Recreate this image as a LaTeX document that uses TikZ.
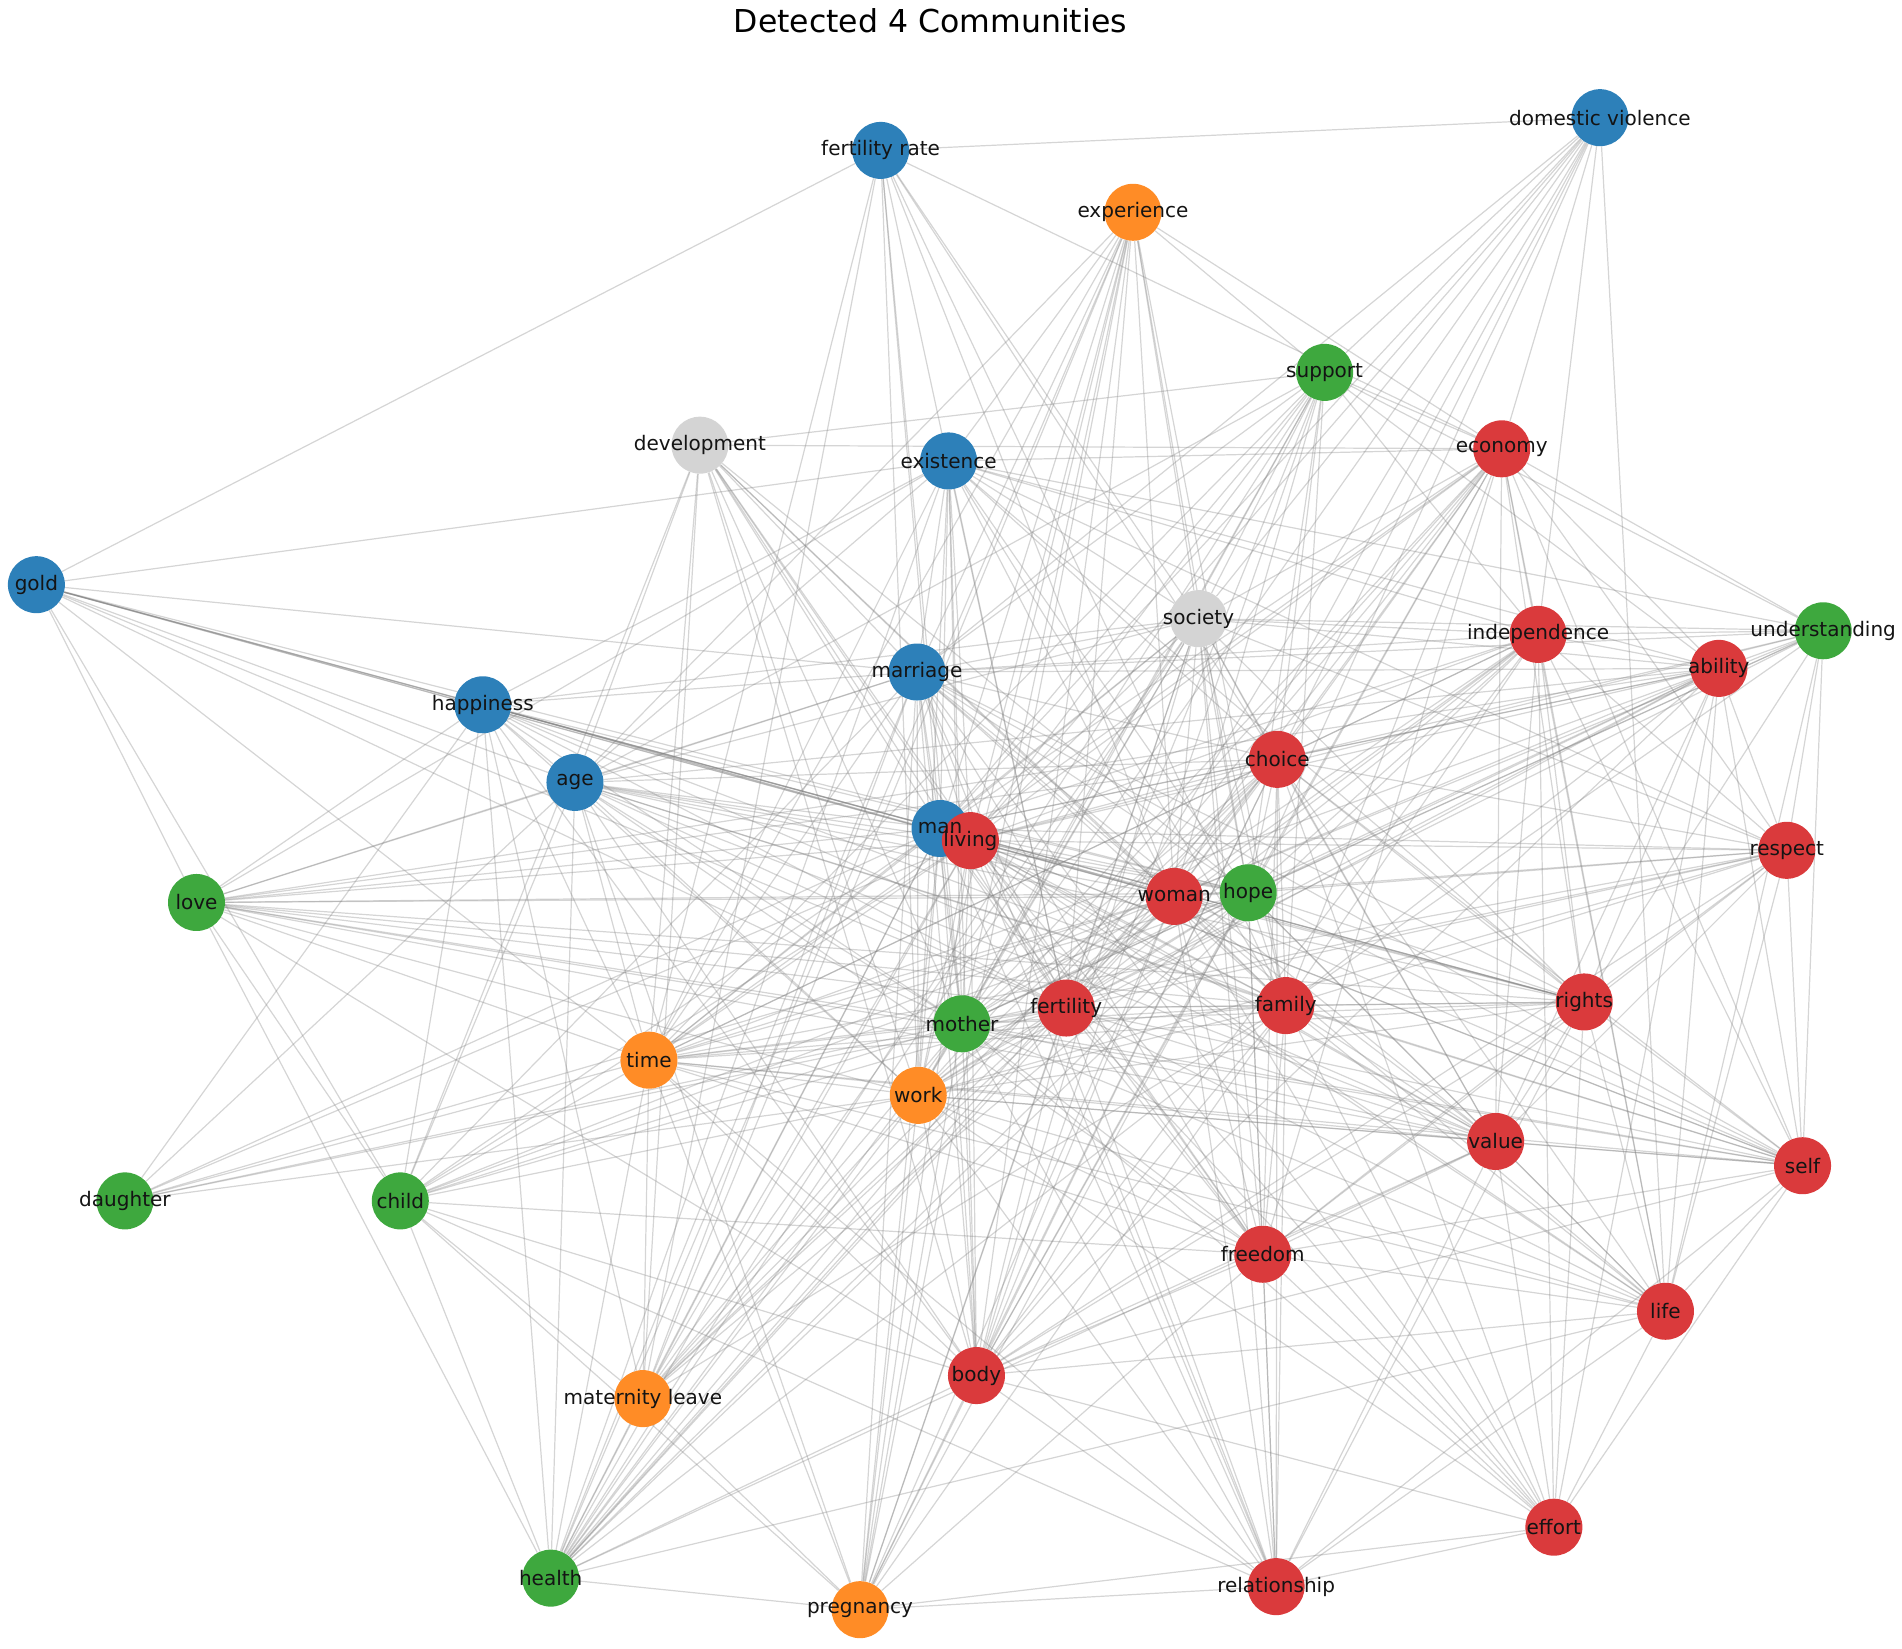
\documentclass[tikz,border=0pt]{standalone}
\usepackage{fontspec}
\setmainfont{DejaVu Sans}
\usepackage{tikz}

\definecolor{commblue}{RGB}{45,128,185}
\definecolor{commorange}{RGB}{255,140,38}
\definecolor{commgreen}{RGB}{62,168,62}
\definecolor{commred}{RGB}{218,58,60}
\definecolor{commgray}{RGB}{212,212,212}

\pgfdeclarelayer{edges}
\pgfsetlayers{edges,main}

\begin{document}
\begin{tikzpicture}[x=1pt,y=-1pt,
	every node/.style={inner sep=0pt},
	term/.style={circle,minimum size=47pt,fill=#1},
	word/.style={font=\fontsize{16.5}{19}\selectfont,text=black!92},
	link/.style={draw=black!50,draw opacity=0.33,line width=1pt}]
\useasboundingbox (0,0) rectangle (1568,1359);

\node[font=\fontsize{26}{31}\selectfont] (title) at (767,17) {Detected 4 Communities};

\foreach \n/\x/\y/\c in {
	dv/1319/97/commblue, frate/726/124/commblue, exper/934/175/commorange,
	supp/1092/307/commgreen, devel/577/367/commgray, exist/782/380/commblue,
	econ/1238/370/commred, gold/30/482/commblue, soc/988/510/commgray,
	indep/1268/523/commred, under/1503/520/commgreen, abil/1417/551/commred,
	marr/756/554/commblue, happ/398/581/commblue, choice/1053/626/commred,
	age/474/645/commblue, man/775/683/commblue, living/800/693/commred,
	resp/1473/701/commred, love/162/744/commgreen, woman/968/739/commred,
	hope/1029/736/commgreen, fert/879/831/commred, fam/1060/829/commred,
	rights/1306/826/commred, mother/793/844/commgreen, time/535/874/commorange,
	work/757/903/commorange, value/1233/941/commred, self/1486/961/commred,
	daught/103/990/commgreen, child/330/990/commgreen, freed/1041/1034/commred,
	life/1373/1081/commred, body/805/1134/commred, mleave/530/1153/commorange,
	effort/1281/1259/commred, health/454/1301/commgreen, rel/1052/1308/commred,
	preg/709/1327/commorange}
	\node[term=\c] (\n) at (\x,\y) {};

\foreach \n/\t in {
	dv/domestic violence, frate/fertility rate, exper/experience, supp/support,
	devel/development, exist/existence, econ/economy, gold/gold, soc/society,
	indep/independence, under/understanding, abil/ability, marr/marriage,
	happ/happiness, choice/choice, age/age, man/man, living/living,
	resp/respect, love/love, woman/woman, hope/hope, fert/fertility,
	fam/family, rights/rights, mother/mother, time/time, work/work,
	value/value, self/self, daught/daughter, child/child, freed/freedom,
	life/life, body/body, mleave/maternity leave, effort/effort,
	health/health, rel/relationship, preg/pregnancy}
	\node[word] (\n-l) at (\n) {\t};

\begin{pgfonlayer}{edges}
\foreach \a/\b in {
	dv/frate, dv/supp, dv/econ, dv/soc, dv/indep, dv/marr, dv/man, dv/living,
	dv/woman, dv/hope, dv/fert, dv/mother, dv/life, dv/choice,
	frate/econ, frate/gold, frate/soc, frate/man, frate/woman, frate/fert,
	frate/fam, frate/mother, frate/work, frate/mleave, frate/choice, frate/time,
	exper/supp, exper/econ, exper/soc, exper/marr, exper/man, exper/living,
	exper/woman, exper/hope, exper/fert, exper/fam, exper/mother, exper/time,
	exper/work, exper/body, exper/mleave, exper/health, exper/preg, exper/age,
	exper/exist,
	supp/devel, supp/econ, supp/soc, supp/indep, supp/under, supp/abil,
	supp/marr, supp/choice, supp/age, supp/living, supp/woman, supp/hope,
	supp/fert, supp/fam, supp/mother, supp/time, supp/work, supp/body,
	supp/health, supp/man,
	devel/econ, devel/marr, devel/age, devel/man, devel/living, devel/woman,
	devel/hope, devel/fert, devel/fam, devel/mother, devel/time, devel/work,
	devel/child, devel/freed, devel/body, devel/mleave,
	exist/econ, exist/gold, exist/soc, exist/indep, exist/abil, exist/under,
	exist/marr, exist/happ, exist/choice, exist/age, exist/man, exist/living,
	exist/resp, exist/love, exist/woman, exist/hope, exist/fert, exist/fam,
	exist/rights, exist/mother, exist/time, exist/work, exist/body, exist/health,
	econ/soc, econ/indep, econ/abil, econ/under, econ/choice, econ/living,
	econ/resp, econ/woman, econ/hope, econ/fert, econ/fam, econ/rights,
	econ/mother, econ/time, econ/work, econ/value, econ/self, econ/freed,
	econ/life, econ/body, econ/health, econ/man,
	gold/marr, gold/happ, gold/age, gold/man, gold/living, gold/love,
	gold/woman, gold/hope, gold/fert, gold/mother, gold/time, gold/child,
	gold/rights,
	soc/indep, soc/abil, soc/under, soc/marr, soc/happ, soc/choice, soc/age,
	soc/man, soc/living, soc/woman, soc/hope, soc/fert, soc/fam, soc/rights,
	soc/mother, soc/time, soc/work, soc/value, soc/freed, soc/body,
	soc/mleave, soc/health, soc/rel, soc/preg, soc/resp,
	indep/abil, indep/under, indep/marr, indep/choice, indep/man, indep/living,
	indep/resp, indep/woman, indep/hope, indep/fert, indep/fam, indep/rights,
	indep/mother, indep/time, indep/work, indep/value, indep/self, indep/life,
	indep/effort, indep/body, indep/health,
	under/abil, under/choice, under/resp, under/woman, under/hope, under/fam,
	under/rights, under/mother, under/living, under/self, under/life,
	under/fert, under/marr,
	abil/marr, abil/choice, abil/age, abil/man, abil/living, abil/resp,
	abil/love, abil/woman, abil/hope, abil/fert, abil/fam, abil/rights,
	abil/mother, abil/time, abil/work, abil/value, abil/self, abil/life,
	abil/effort, abil/body,
	marr/happ, marr/choice, marr/age, marr/man, marr/living, marr/woman,
	marr/hope, marr/fert, marr/fam, marr/rights, marr/mother, marr/time,
	marr/work, marr/value, marr/self, marr/freed, marr/body, marr/mleave,
	marr/health, marr/preg, marr/rel, marr/effort, marr/child, marr/love,
	happ/age, happ/man, happ/living, happ/love, happ/woman, happ/hope,
	happ/fert, happ/fam, happ/mother, happ/time, happ/work, happ/daught,
	happ/child, happ/mleave, happ/health, happ/body, happ/rights, happ/value,
	choice/age, choice/man, choice/living, choice/resp, choice/woman,
	choice/hope, choice/fert, choice/fam, choice/rights, choice/mother,
	choice/time, choice/work, choice/value, choice/self, choice/freed,
	choice/life, choice/body, choice/mleave, choice/health, choice/preg,
	choice/rel, choice/effort, choice/love,
	age/man, age/living, age/love, age/woman, age/hope, age/fert, age/fam,
	age/rights, age/mother, age/time, age/work, age/value, age/self,
	age/daught, age/child, age/freed, age/body, age/health, age/preg,
	man/living, man/resp, man/love, man/woman, man/hope, man/fert, man/fam,
	man/rights, man/mother, man/time, man/work, man/value, man/self,
	man/child, man/freed, man/life, man/body, man/mleave, man/health,
	man/preg, man/rel, man/daught,
	living/resp, living/love, living/woman, living/hope, living/fert,
	living/fam, living/rights, living/mother, living/time, living/work,
	living/value, living/self, living/daught, living/child, living/freed,
	living/life, living/body, living/mleave, living/health, living/preg,
	living/rel, living/effort,
	resp/woman, resp/hope, resp/fert, resp/fam, resp/rights, resp/mother,
	resp/time, resp/work, resp/value, resp/self, resp/life, resp/body,
	resp/freed,
	love/woman, love/hope, love/fert, love/fam, love/mother, love/time,
	love/work, love/child, love/body, love/health, love/value, love/rights,
	love/self,
	woman/hope, woman/fert, woman/fam, woman/rights, woman/mother, woman/time,
	woman/work, woman/value, woman/self, woman/daught, woman/child,
	woman/freed, woman/life, woman/body, woman/mleave, woman/health,
	woman/preg, woman/rel, woman/effort,
	hope/fert, hope/fam, hope/rights, hope/mother, hope/time, hope/work,
	hope/value, hope/self, hope/child, hope/freed, hope/life, hope/body,
	hope/mleave, hope/health, hope/preg, hope/rel,
	fert/fam, fert/rights, fert/mother, fert/time, fert/work, fert/value,
	fert/self, fert/daught, fert/child, fert/freed, fert/life, fert/body,
	fert/mleave, fert/health, fert/preg, fert/rel, fert/effort,
	fam/rights, fam/mother, fam/time, fam/work, fam/value, fam/self,
	fam/freed, fam/life, fam/body, fam/mleave, fam/health, fam/preg,
	fam/rel, fam/effort,
	rights/mother, rights/time, rights/value, rights/self, rights/freed,
	rights/life, rights/body, rights/effort, rights/rel, rights/work,
	mother/time, mother/work, mother/value, mother/self, mother/daught,
	mother/child, mother/freed, mother/life, mother/body, mother/mleave,
	mother/health, mother/preg, mother/rel, mother/effort,
	time/work, time/value, time/self, time/daught, time/child, time/freed,
	time/body, time/mleave, time/health, time/preg, time/rel, time/life,
	work/value, work/self, work/daught, work/child, work/freed, work/life,
	work/body, work/mleave, work/health, work/preg, work/rel, work/effort,
	value/self, value/freed, value/life, value/body, value/effort, value/rel,
	value/health,
	self/life, self/effort, self/body, self/freed, self/rel,
	child/body, child/mleave, child/health, child/preg, child/rel, child/freed,
	freed/life, freed/body, freed/rel, freed/effort, freed/preg,
	life/body, life/effort, life/rel, life/health,
	body/health, body/preg, body/rel, body/effort,
	mleave/health, mleave/preg, effort/rel, effort/preg,
	health/preg, rel/preg}
	\draw[link] (\a) -- (\b);
\end{pgfonlayer}
\end{tikzpicture}
\end{document}
